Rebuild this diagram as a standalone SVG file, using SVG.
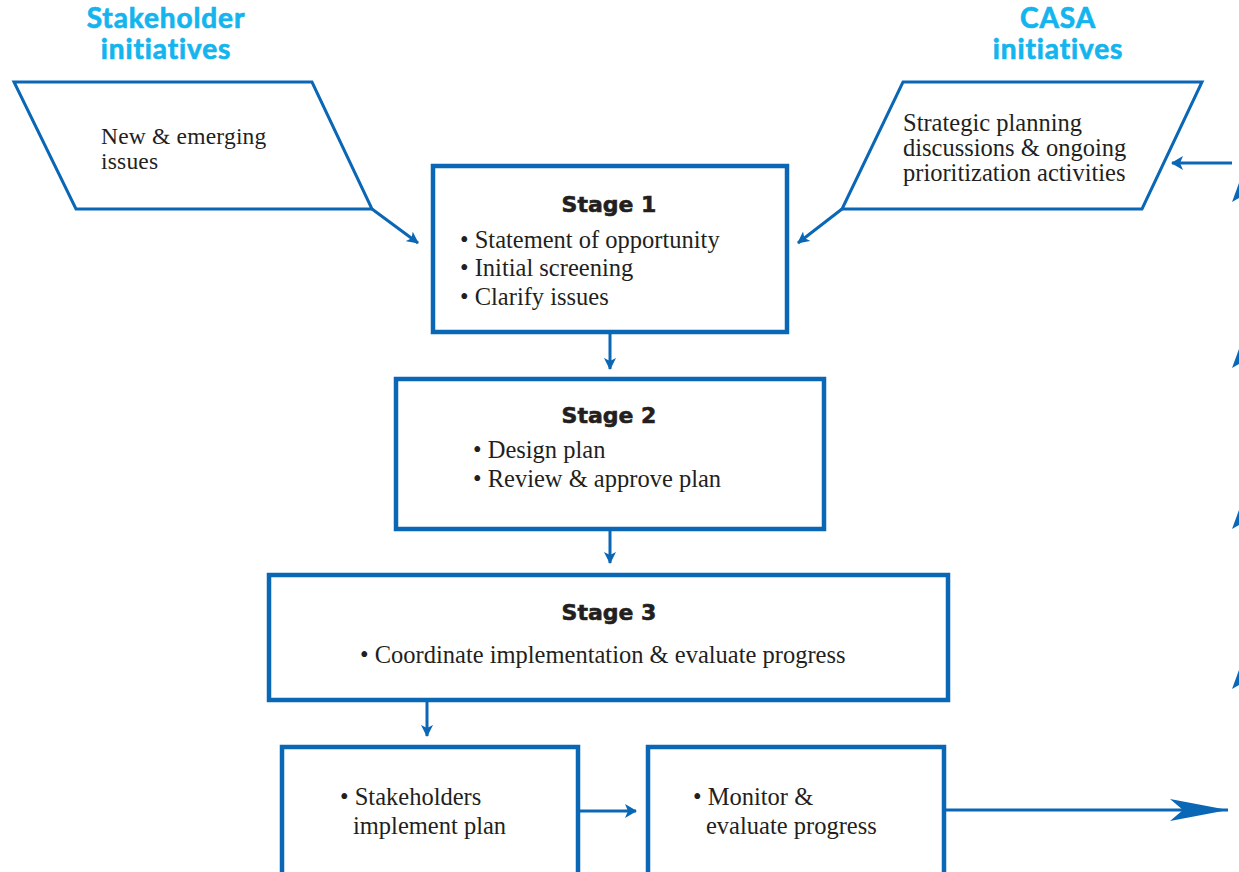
<svg xmlns="http://www.w3.org/2000/svg" width="1239" height="872" viewBox="0 0 1239 872">
<defs>
<style>
.box{fill:#fff;stroke:#0a67b5;stroke-width:4.5}
.para{fill:#fff;stroke:#0a67b5;stroke-width:3}
.ln{fill:none;stroke:#0a67b5;stroke-width:3}
.hd{font-family:Lato,"Open Sans",sans-serif;font-weight:700;font-size:28px;letter-spacing:0.9px;fill:#14b4ee;text-anchor:middle;stroke:#14b4ee;stroke-width:0.7}
.st{font-family:"DejaVu Sans",Lato,sans-serif;font-weight:700;font-size:22px;fill:#231f20;text-anchor:middle;stroke:#231f20;stroke-width:0.6}
.tx{font-family:"Liberation Serif","Times New Roman",serif;font-size:24.5px;fill:#231f20}
.tx2{font-family:"Liberation Serif","Times New Roman",serif;font-size:23.5px;letter-spacing:0.2px;fill:#231f20}
.bar{fill:#0a67b5}
</style>
<marker id="ah" viewBox="0 0 12 12" refX="11" refY="6" markerWidth="12" markerHeight="12" markerUnits="userSpaceOnUse" orient="auto">
<path d="M0,0 L12,6 L0,12 L3,6 Z" fill="#0a67b5"/>
</marker>
<marker id="ahs" viewBox="0 0 12 14" refX="11" refY="7" markerWidth="12" markerHeight="14" markerUnits="userSpaceOnUse" orient="auto">
<path d="M0,0 L12,7 L0,14 L3,7 Z" fill="#0a67b5"/>
</marker>
<marker id="ahbig" viewBox="0 0 58 22" refX="58" refY="11" markerWidth="58" markerHeight="22" markerUnits="userSpaceOnUse" orient="auto">
<path d="M0,0 L58,11 L0,22 L13,11 Z" fill="#0a67b5"/>
</marker>
</defs>
<rect width="1239" height="872" fill="#fff"/>

<g id="header-stakeholder">
<text class="hd" x="166" y="28">Stakeholder</text>
<text class="hd" x="166" y="59">initiatives</text>
</g>
<g id="header-casa">
<text class="hd" x="1058" y="28">CASA</text>
<text class="hd" x="1058" y="59">initiatives</text>
</g>

<g id="connectors">
<line class="ln" x1="372" y1="209" x2="418" y2="243" marker-end="url(#ah)"/>
<line class="ln" x1="842" y1="209" x2="798" y2="243" marker-end="url(#ah)"/>
<line class="ln" x1="1232" y1="163" x2="1172" y2="163" marker-end="url(#ahs)"/>
<line class="ln" x1="610" y1="333" x2="610" y2="369" marker-end="url(#ah)"/>
<line class="ln" x1="610" y1="530" x2="610" y2="563" marker-end="url(#ah)"/>
<line class="ln" x1="427" y1="700" x2="427" y2="736" marker-end="url(#ah)"/>
<line class="ln" x1="578" y1="811" x2="636" y2="811" marker-end="url(#ahs)"/>
<line class="ln" x1="944" y1="810" x2="1228" y2="810" marker-end="url(#ahbig)"/>
<polygon class="bar" points="1239,183 1232,202 1239,198"/>
<polygon class="bar" points="1239,349 1232,368 1239,364"/>
<polygon class="bar" points="1239,510 1232,529 1239,525"/>
<polygon class="bar" points="1239,670 1232,689 1239,685"/>
</g>

<g id="node-stakeholder">
<polygon class="para" points="14,82 312,82 372,209 76,209"/>
<text class="tx2" x="101" y="144">New &amp; emerging</text>
<text class="tx2" x="101" y="169">issues</text>
</g>

<g id="node-casa">
<polygon class="para" points="903,82 1202,82 1142,209 842,209"/>
<text class="tx" x="903" y="131">Strategic planning</text>
<text class="tx" x="903" y="156">discussions &amp; ongoing</text>
<text class="tx" x="903" y="181">prioritization activities</text>
</g>

<g id="node-stage1">
<rect class="box" x="433" y="166" width="354" height="166"/>
<text class="st" x="609" y="212">Stage 1</text>
<text class="tx" x="460" y="248">• Statement of opportunity</text>
<text class="tx" x="460" y="276">• Initial screening</text>
<text class="tx" x="460" y="305">• Clarify issues</text>
</g>

<g id="node-stage2">
<rect class="box" x="396" y="379" width="428" height="150"/>
<text class="st" x="609" y="423">Stage 2</text>
<text class="tx" x="473" y="458">• Design plan</text>
<text class="tx" x="473" y="487">• Review &amp; approve plan</text>
</g>

<g id="node-stage3">
<rect class="box" x="269" y="575" width="679" height="125"/>
<text class="st" x="609" y="620">Stage 3</text>
<text class="tx" x="360" y="663">• Coordinate implementation &amp; evaluate progress</text>
</g>

<g id="node-implement">
<rect class="box" x="282" y="747" width="296" height="140"/>
<text class="tx" x="340" y="805">• Stakeholders</text>
<text class="tx" x="353" y="834">implement plan</text>
</g>

<g id="node-monitor">
<rect class="box" x="648" y="747" width="296" height="140"/>
<text class="tx" x="693" y="805">• Monitor &amp;</text>
<text class="tx" x="706" y="834">evaluate progress</text>
</g>
</svg>
